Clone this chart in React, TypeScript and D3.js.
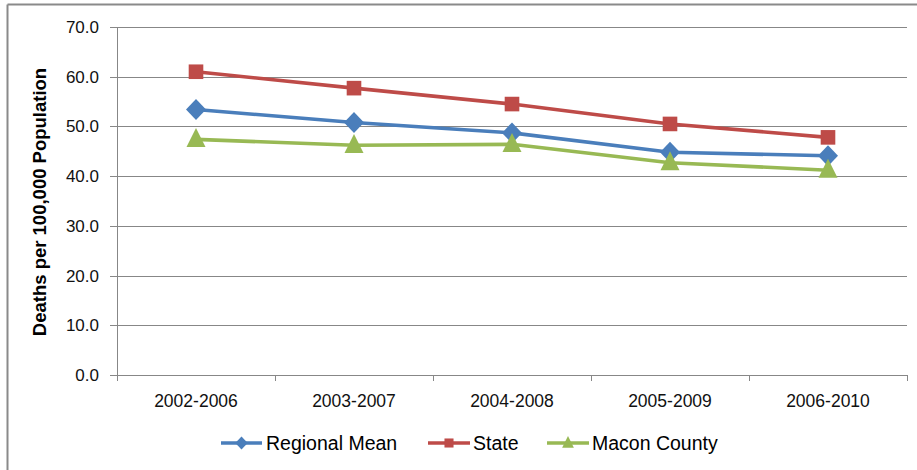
import React from "react";
import * as d3 from "d3";

const categories = ["2002-2006", "2003-2007", "2004-2008", "2005-2009", "2006-2010"];
const regionalMean = [53.4, 50.8, 48.7, 44.8, 44.1];
const stateValues = [61.0, 57.7, 54.5, 50.5, 47.8];
const maconCounty = [47.4, 46.2, 46.4, 42.7, 41.2];
const yTicks = [0, 10, 20, 30, 40, 50, 60, 70];

const series = [
  { name: "Regional Mean", values: regionalMean, color: "#4A7EBB", marker: "diamond" },
  { name: "State", values: stateValues, color: "#BE4B48", marker: "square" },
  { name: "Macon County", values: maconCounty, color: "#98B954", marker: "triangle" },
];

const W = 917;
const H = 470;
const gridColor = "#878787";

const Marker = ({ type, x, y, color, scale = 1 }) => {
  if (type === "diamond") {
    const w = 10 * scale, h = 10.5 * scale;
    return <path d={`M${x},${y - h}L${x + w},${y}L${x},${y + h}L${x - w},${y}Z`} fill={color} />;
  }
  if (type === "square") {
    const s = 7.3 * scale;
    return <rect x={x - s} y={y - s} width={2 * s} height={2 * s} fill={color} />;
  }
  const w = 9.5 * scale, h = 19 * scale;
  return <path d={`M${x},${y - h * 0.6}L${x + w},${y + h * 0.4}L${x - w},${y + h * 0.4}Z`} fill={color} />;
};

const App = () => {
  const x = d3.scaleBand().domain(categories).range([117, 907]);
  const y = d3.scaleLinear().domain([0, 70]).range([375, 27]);
  const cx = (c) => x(c) + x.bandwidth() / 2;

  const line = d3.line()
    .x((_, i) => cx(categories[i]))
    .y(d => y(d));

  const tickEdges = categories.map(c => x(c)).concat([x.range()[1]]);

  const legend = [
    { lx1: 221, lx2: 262, tx: 266 },
    { lx1: 428, lx2: 470, tx: 473 },
    { lx1: 547, lx2: 589, tx: 592 },
  ];
  const legendY = 443;

  return (
    <svg width={W} height={H} style={{ display: "block", position: "absolute", left: 0, top: 0 }}
      fontFamily="'Liberation Sans', Arial, sans-serif">
      <rect x={0} y={0} width={W} height={H} fill="#fff" />
      {/* outer chart border */}
      <line x1={7.5} y1={4.5} x2={W} y2={4.5} stroke="#8a8a8a" strokeWidth={2} />
      <line x1={7.5} y1={4.5} x2={7.5} y2={H} stroke="#8a8a8a" strokeWidth={2} />

      {/* gridlines */}
      {yTicks.map(t => (
        <g key={t}>
          <line x1={110} x2={907} y1={Math.round(y(t)) + 0.5} y2={Math.round(y(t)) + 0.5} stroke={gridColor} strokeWidth={1} />
          <text x={99} y={y(t)} dy="0.35em" textAnchor="end" fontSize={17} fill="#111">
            {t.toFixed(1)}
          </text>
        </g>
      ))}
      {/* y axis */}
      <line x1={117.5} x2={117.5} y1={y(70)} y2={375} stroke={gridColor} />
      {/* x ticks */}
      {tickEdges.map((e, i) => (
        <line key={i} x1={Math.round(e) + 0.5} x2={Math.round(e) + 0.5} y1={375} y2={381} stroke={gridColor} />
      ))}
      {categories.map(c => (
        <text key={c} x={cx(c)} y={401} dy="0.35em" textAnchor="middle" fontSize={17.5} fill="#111">{c}</text>
      ))}

      {/* y title */}
      <text transform="translate(40,202) rotate(-90)" textAnchor="middle" dy="0.35em"
        fontSize={18.5} fontWeight="bold" fill="#000">
        Deaths per 100,000 Population
      </text>

      {/* series */}
      {series.map(s => (
        <g key={s.name}>
          <path d={line(s.values)} fill="none" stroke={s.color} strokeWidth={3.6} strokeLinejoin="round" />
          {s.values.map((v, i) => (
            <Marker key={i} type={s.marker} x={cx(categories[i])} y={y(v)} color={s.color} />
          ))}
        </g>
      ))}

      {/* legend */}
      {series.map((s, i) => {
        const l = legend[i];
        const mx = (l.lx1 + l.lx2) / 2;
        return (
          <g key={s.name}>
            <line x1={l.lx1} x2={l.lx2} y1={legendY} y2={legendY} stroke={s.color} strokeWidth={3.6} />
            <Marker type={s.marker} x={mx} y={legendY} color={s.color} scale={0.62} />
            <text x={l.tx} y={legendY} dy="0.35em" fontSize={19.5} fill="#000">{s.name}</text>
          </g>
        );
      })}
    </svg>
  );
};

export default App;
